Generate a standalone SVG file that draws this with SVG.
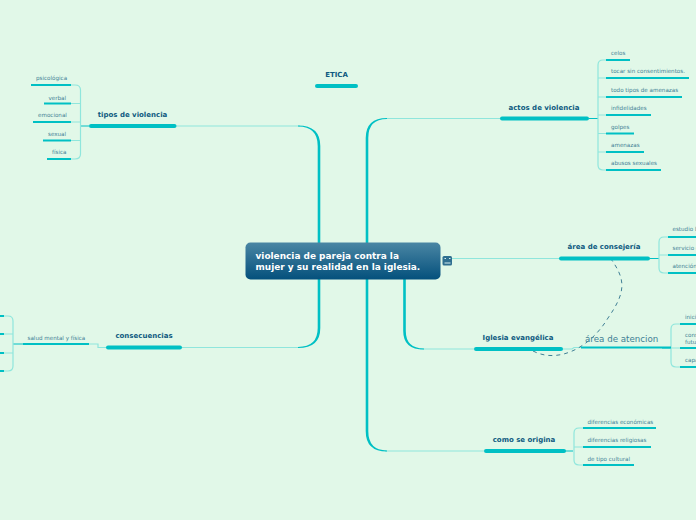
<svg xmlns="http://www.w3.org/2000/svg" width="696" height="520" viewBox="0 0 696 520">
<style>
text{font-family:"DejaVu Sans",Verdana,sans-serif}
.t1{font-size:7px;font-weight:bold;fill:#0e5a80;text-anchor:middle}
.t2{font-size:5.6px;fill:#3f7f95}
.ul1{stroke:#00c0c4;stroke-width:4;stroke-linecap:round;fill:none}
.ul2{stroke:#00c0c4;stroke-width:2;fill:none}
.lt{stroke:#8fe6dc;stroke-width:1.200;fill:none}
.tp{fill:#00c0c4;stroke:none}
.st{stroke:#00c0c4;stroke-width:1;fill:none}
</style>
<defs>
<linearGradient id="g" x1="0" y1="0" x2="0" y2="1"><stop offset="0" stop-color="#4a86a4"/><stop offset="1" stop-color="#04507c"/></linearGradient>
</defs>
<rect width="696" height="520" fill="#e1f8e8"/>
<g id="connectors">
<path class="lt" d="M176 126H300"/>
<path class="tp" d="M317.700 243V146Q317.700 126.600 298 126.600V125.400Q320.300 125.400 320.300 146V243Z"/>
<path class="lt" d="M182 347.500H300"/>
<path class="tp" d="M317.700 279V328Q317.700 346.900 298 346.900V348.100Q320.300 348.100 320.300 328V279Z"/>
<path class="lt" d="M500 118.500H385"/>
<path class="tp" d="M368.300 243V138Q368.300 119.100 387 119.100V117.900Q365.700 117.900 365.700 138V243Z"/>
<path class="lt" d="M484 451H385"/>
<path class="tp" d="M368.300 279V431Q368.300 450.400 387 450.400V451.600Q365.700 451.600 365.700 431V279Z"/>
<path class="lt" d="M474 349H420"/>
<path class="tp" d="M405.800 279V331Q405.800 348.400 424 348.400V349.600Q403.200 349.600 403.200 331V279Z"/>
<path class="lt" d="M452 258.500H559"/>
<path class="lt" d="M562 349H572L574 347.500H585"/>
<path class="lt" d="M89 344H98V347.500H106"/>
<path class="st" d="M89 126H80M589 118.500H598M650 258.500H659M573 451H565M13 344H23M662 348H671"/>
<path class="lt" d="M68 85H75Q80.500 85 80.500 90V154Q80.500 159 75 159H71M71 103.500H80.500M71 122H80.500M71 140.500H80.500"/>
<path class="lt" d="M606 60H603Q598 60 598 65V165Q598 170 603 170H606M606 78H598M606 97H598M606 115H598M606 133.500H598M606 152H598"/>
<path class="lt" d="M672 237H664Q659 237 659 242V268Q659 273 664 273H672M672 255H659"/>
<path class="lt" d="M680 324H676Q671 324 671 329V362Q671 367 676 367H680M680 348H671"/>
<path class="lt" d="M583 428H579Q574 428 574 433V460Q574 465 579 465H583M583 447H574"/>
<path class="lt" d="M4 316H8Q13 316 13 321V366Q13 371 8 371H4M4 334H13M4 353H13"/>
<path d="M533 351C558 364 590 348 608 318C626 292 626 280 611 259" fill="none" stroke="#3f7f95" stroke-width="1" stroke-dasharray="4 4"/>
</g>
<g id="etica"><text class="t1" x="336.500" y="77">ETICA</text><path class="ul1" d="M317 86H356"/></g>
<g id="central">
<rect x="245.500" y="242.500" width="195" height="37" rx="5" fill="url(#g)"/>
<text x="255.500" y="259" font-size="8.950" font-weight="bold" fill="#fff">violencia de pareja contra la</text>
<text x="255.500" y="270" font-size="8.950" font-weight="bold" fill="#fff">mujer y su realidad en la iglesia.</text>
</g>
<g id="icon"><rect x="442.500" y="256" width="9.500" height="9.500" rx="1.500" fill="#2f6f90"/><path d="M444.500 258.500H446M449 258.500H450.500M444.500 263H450.500" stroke="#d5eef0" stroke-width="1"/></g>
<g id="tipos"><text class="t1" x="132.500" y="117">tipos de violencia</text><path class="ul1" d="M91 126H174.500"/></g>
<g id="actos"><text class="t1" x="544" y="110">actos de violencia</text><path class="ul1" d="M502 118.500H587"/></g>
<g id="consejeria"><text class="t1" x="604" y="249">área de consejería</text><path class="ul1" d="M561 258.500H648"/></g>
<g id="iglesia"><text class="t1" x="518" y="340">Iglesia evangélica</text><path class="ul1" d="M476 349H561"/></g>
<g id="origina"><text class="t1" x="524" y="442">como se origina</text><path class="ul1" d="M486 451H564"/></g>
<g id="consecuencias"><text class="t1" x="144" y="338">consecuencias</text><path class="ul1" d="M108 347.500H180"/></g>
<g id="psicologica"><text class="t2" x="36" y="80">psicológica</text><path class="ul2" d="M31 85H71"/></g>
<g id="verbal"><text class="t2" x="48.500" y="99.500">verbal</text><path class="ul2" d="M44 103.500H71"/></g>
<g id="emocional"><text class="t2" x="38" y="117">emocional</text><path class="ul2" d="M33 122H71"/></g>
<g id="sexual"><text class="t2" x="48" y="136">sexual</text><path class="ul2" d="M43 140.500H71"/></g>
<g id="fisica"><text class="t2" x="52" y="154">física</text><path class="ul2" d="M47 159H71"/></g>
<g id="celos"><text class="t2" x="611" y="55">celos</text><path class="ul2" d="M606 60H630"/></g>
<g id="tocar"><text class="t2" x="611" y="73">tocar sin consentimientos.</text><path class="ul2" d="M606 78H689"/></g>
<g id="amenazas1"><text class="t2" x="611" y="92">todo tipos de amenazas</text><path class="ul2" d="M606 97H682"/></g>
<g id="infidelidades"><text class="t2" x="611" y="110">infidelidades</text><path class="ul2" d="M606 115H651"/></g>
<g id="golpes"><text class="t2" x="611" y="129">golpes</text><path class="ul2" d="M606 133.500H634"/></g>
<g id="amenazas2"><text class="t2" x="611" y="147">amenazas</text><path class="ul2" d="M606 152H644"/></g>
<g id="abusos"><text class="t2" x="611" y="165">abusos sexuales</text><path class="ul2" d="M606 170H661"/></g>
<g id="estudio"><text class="t2" x="672.500" y="231">estudio b</text><path class="ul2" d="M668 237H696"/></g>
<g id="servicio"><text class="t2" x="672.500" y="250">servicio c</text><path class="ul2" d="M668 255H696"/></g>
<g id="atencion"><text class="t2" x="672.500" y="268">atención</text><path class="ul2" d="M668 273H696"/></g>
<g id="area-atencion"><text x="585" y="342" font-size="8.700" fill="#3f7f95">área de atencion</text><path class="ul2" d="M581 347.500H671"/></g>
<g id="inici"><text class="t2" x="685" y="319">inici</text><path class="ul2" d="M680 324H696"/></g>
<g id="cons"><text class="t2" x="685" y="337">cons</text><text class="t2" x="685" y="344">futu</text><path class="ul2" d="M680 348H696"/></g>
<g id="capa"><text class="t2" x="685" y="362">capa</text><path class="ul2" d="M680 367H696"/></g>
<g id="economicas"><text class="t2" x="587.500" y="424">diferencias económicas</text><path class="ul2" d="M583 428H656"/></g>
<g id="religiosas"><text class="t2" x="587.500" y="442">diferencias religiosas</text><path class="ul2" d="M583 447H651"/></g>
<g id="cultural"><text class="t2" x="587.500" y="461">de tipo cultural</text><path class="ul2" d="M583 465H634"/></g>
<g id="salud"><text class="t2" x="27.500" y="339.500">salud mental y física</text><path class="ul2" d="M23 344H89"/></g>
<g id="s1"><path class="ul2" d="M0 316H4"/></g>
<g id="s2"><path class="ul2" d="M0 334H4"/></g>
<g id="s3"><path class="ul2" d="M0 353H4"/></g>
<g id="s4"><path class="ul2" d="M0 371H4"/></g>
</svg>
